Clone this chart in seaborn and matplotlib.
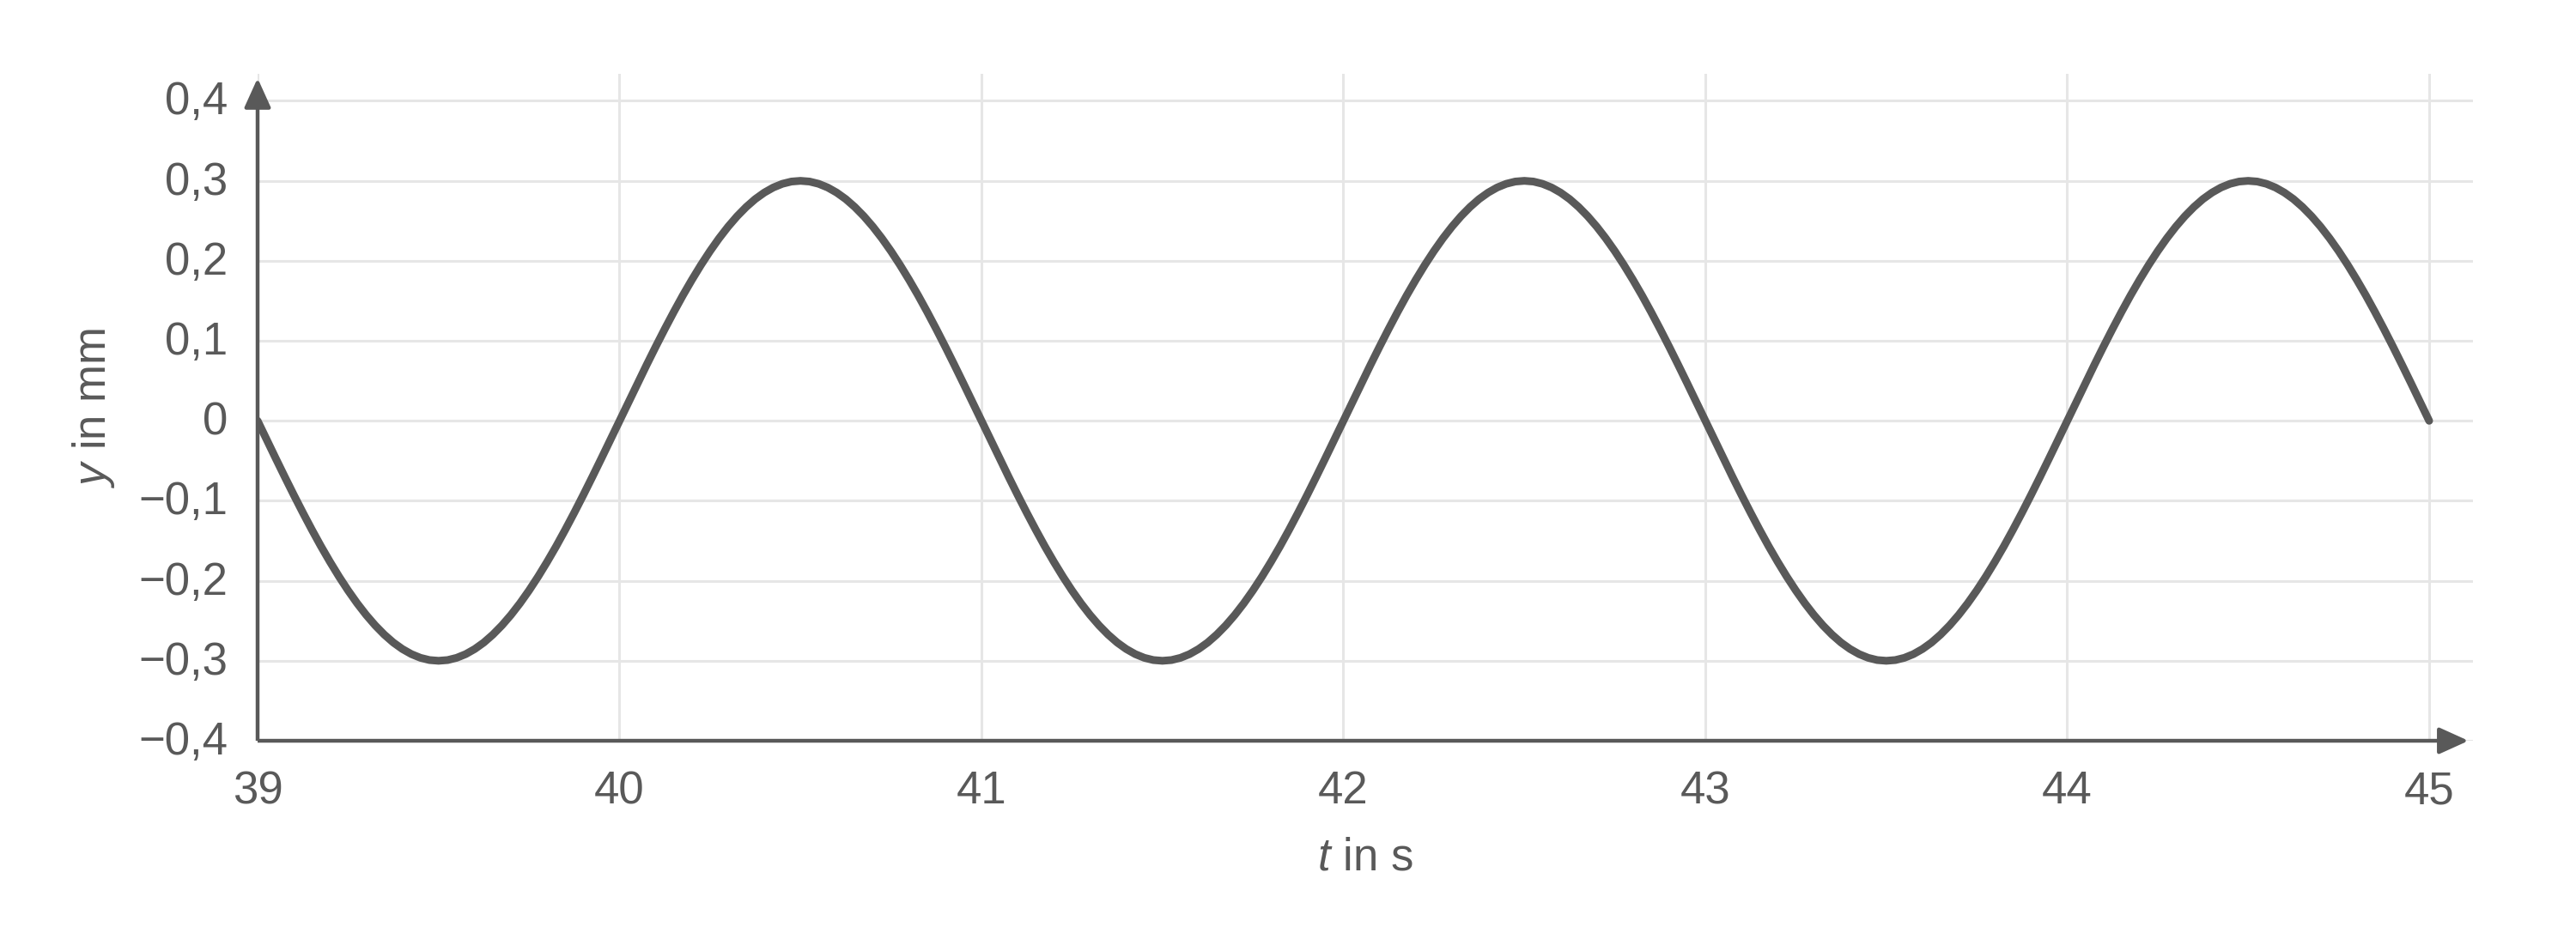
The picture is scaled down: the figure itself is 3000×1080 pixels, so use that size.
import numpy as np
import pandas as pd
import seaborn as sns
import matplotlib.pyplot as plt
import matplotlib.transforms as mtransforms
from matplotlib.patches import ArrowStyle

# time samples (s), every 0.025 s from 39 to 45
t_values = np.round(np.arange(39.0, 45.0001, 0.025), 3)

# displacement y (mm), two lines per second
y_values = [
    # 39 .. 40
    0.0000, -0.0235, -0.0469, -0.0700, -0.0927, -0.1148, -0.1362, -0.1568, -0.1763, -0.1948,
    -0.2121, -0.2281, -0.2427, -0.2558, -0.2673, -0.2772, -0.2853, -0.2917, -0.2963, -0.2991,
    -0.3000, -0.2991, -0.2963, -0.2917, -0.2853, -0.2772, -0.2673, -0.2558, -0.2427, -0.2281,
    -0.2121, -0.1948, -0.1763, -0.1568, -0.1362, -0.1148, -0.0927, -0.0700, -0.0469, -0.0235,
    # 40 .. 41
    0.0000, 0.0235, 0.0469, 0.0700, 0.0927, 0.1148, 0.1362, 0.1568, 0.1763, 0.1948,
    0.2121, 0.2281, 0.2427, 0.2558, 0.2673, 0.2772, 0.2853, 0.2917, 0.2963, 0.2991,
    0.3000, 0.2991, 0.2963, 0.2917, 0.2853, 0.2772, 0.2673, 0.2558, 0.2427, 0.2281,
    0.2121, 0.1948, 0.1763, 0.1568, 0.1362, 0.1148, 0.0927, 0.0700, 0.0469, 0.0235,
    # 41 .. 42
    0.0000, -0.0235, -0.0469, -0.0700, -0.0927, -0.1148, -0.1362, -0.1568, -0.1763, -0.1948,
    -0.2121, -0.2281, -0.2427, -0.2558, -0.2673, -0.2772, -0.2853, -0.2917, -0.2963, -0.2991,
    -0.3000, -0.2991, -0.2963, -0.2917, -0.2853, -0.2772, -0.2673, -0.2558, -0.2427, -0.2281,
    -0.2121, -0.1948, -0.1763, -0.1568, -0.1362, -0.1148, -0.0927, -0.0700, -0.0469, -0.0235,
    # 42 .. 43
    0.0000, 0.0235, 0.0469, 0.0700, 0.0927, 0.1148, 0.1362, 0.1568, 0.1763, 0.1948,
    0.2121, 0.2281, 0.2427, 0.2558, 0.2673, 0.2772, 0.2853, 0.2917, 0.2963, 0.2991,
    0.3000, 0.2991, 0.2963, 0.2917, 0.2853, 0.2772, 0.2673, 0.2558, 0.2427, 0.2281,
    0.2121, 0.1948, 0.1763, 0.1568, 0.1362, 0.1148, 0.0927, 0.0700, 0.0469, 0.0235,
    # 43 .. 44
    0.0000, -0.0235, -0.0469, -0.0700, -0.0927, -0.1148, -0.1362, -0.1568, -0.1763, -0.1948,
    -0.2121, -0.2281, -0.2427, -0.2558, -0.2673, -0.2772, -0.2853, -0.2917, -0.2963, -0.2991,
    -0.3000, -0.2991, -0.2963, -0.2917, -0.2853, -0.2772, -0.2673, -0.2558, -0.2427, -0.2281,
    -0.2121, -0.1948, -0.1763, -0.1568, -0.1362, -0.1148, -0.0927, -0.0700, -0.0469, -0.0235,
    # 44 .. 45
    0.0000, 0.0235, 0.0469, 0.0700, 0.0927, 0.1148, 0.1362, 0.1568, 0.1763, 0.1948,
    0.2121, 0.2281, 0.2427, 0.2558, 0.2673, 0.2772, 0.2853, 0.2917, 0.2963, 0.2991,
    0.3000, 0.2991, 0.2963, 0.2917, 0.2853, 0.2772, 0.2673, 0.2558, 0.2427, 0.2281,
    0.2121, 0.1948, 0.1763, 0.1568, 0.1362, 0.1148, 0.0927, 0.0700, 0.0469, 0.0235,
    0.0000,
]

x_ticks = [39, 40, 41, 42, 43, 44, 45]
x_tick_labels = ['39', '40', '41', '42', '43', '44', '45']
y_ticks = [-0.4, -0.3, -0.2, -0.1, 0.0, 0.1, 0.2, 0.3, 0.4]
y_tick_labels = ['\u22120,4', '\u22120,3', '\u22120,2', '\u22120,1', '0',
                 '0,1', '0,2', '0,3', '0,4']

GRAY = '#595959'
GRID = '#e6e6e6'

sns.set_theme(style='white')
plt.rcParams['font.family'] = ['Liberation Sans', 'DejaVu Sans']
plt.rcParams['mathtext.fontset'] = 'custom'
plt.rcParams['mathtext.rm'] = 'Liberation Sans'
plt.rcParams['mathtext.it'] = 'Liberation Sans:italic'

df = pd.DataFrame({'t': t_values, 'y': y_values})

fig = plt.figure(figsize=(30, 10.8), dpi=100)
ax = fig.add_axes([0.1, 0.2009, 0.86, 0.7194])

sns.lineplot(data=df, x='t', y='y', ax=ax, color=GRAY, linewidth=6.5,
             sort=False, estimator=None, zorder=3,
             solid_joinstyle='round', solid_capstyle='round')

ax.set_xlim(39, 45.121)
ax.set_ylim(-0.4, 0.4337)

ax.set_xticks(x_ticks)
ax.set_xticklabels(x_tick_labels)
ax.set_yticks(y_ticks)
ax.set_yticklabels(y_tick_labels, va='center')
ax.tick_params(axis='x', length=0, pad=24.5, labelsize=38, labelcolor=GRAY)
ax.tick_params(axis='y', length=0, pad=25, labelsize=38, labelcolor=GRAY)

# nudge y tick labels down a little
nudge = mtransforms.ScaledTranslation(0, -2 / 100, fig.dpi_scale_trans)
for lbl in ax.get_yticklabels():
    lbl.set_transform(lbl.get_transform() + nudge)

ax.grid(True, color=GRID, linewidth=2.2, zorder=0)
ax.set_axisbelow(True)
for s in ax.spines.values():
    s.set_visible(False)

ax.set_xlabel(r'$t$ in s', fontsize=38, color=GRAY)
ax.set_ylabel(r'$y$ in mm', fontsize=38, color=GRAY)
ax.xaxis.set_label_coords(0.5, -0.144)
ax.yaxis.set_label_coords(-0.0635, 0.5)

# axes drawn as arrows
arrow = ArrowStyle('-|>', head_length=21, head_width=9.5)
for tip in [(0.998, 0.0), (0.0, 0.9936)]:
    ax.annotate('', xy=tip, xytext=(0, 0), xycoords='axes fraction',
                arrowprops=dict(arrowstyle=arrow, mutation_scale=1, color=GRAY,
                                lw=3.2, shrinkA=0, shrinkB=0,
                                joinstyle='round', capstyle='butt'),
                zorder=4, annotation_clip=False)

fig.savefig('out.png', dpi=100, facecolor='white')
